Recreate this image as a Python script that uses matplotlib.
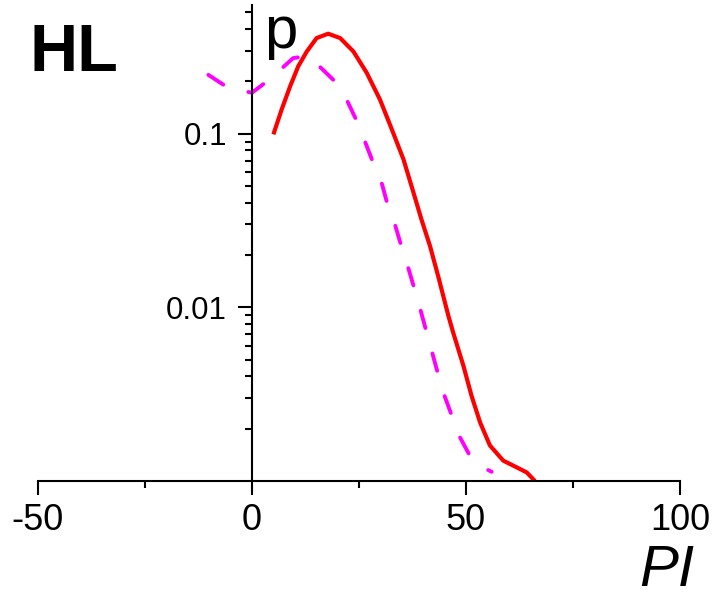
import numpy as np
import matplotlib.pyplot as plt
from matplotlib.ticker import LogLocator, NullFormatter, FixedLocator

plt.rcParams['font.family'] = ['Liberation Sans', 'DejaVu Sans']

# solid red curve
pi_red = [5.0, 6.9, 8.9, 10.8, 12.8, 15.1, 17.8, 20.6, 23.7, 26.8, 29.9, 32.4,
          35.4, 37.7, 39.6, 41.6, 43.5, 45.9, 47.0, 49.4, 51.3, 53.3, 55.6, 58.7,
          61.8, 64.2, 66.1]
p_red = [0.099, 0.137, 0.187, 0.244, 0.297, 0.355, 0.376, 0.355, 0.297, 0.224, 0.157, 0.11,
         0.071, 0.046, 0.032, 0.0225, 0.0151, 0.0089, 0.00716, 0.0046, 0.00309, 0.00217,
         0.0016, 0.00131, 0.0012, 0.00112, 0.001]

# dashed magenta curve
pi_mag = [-10.2, -5.5, 0.0, 4.2, 9.6, 12.0, 13.9, 19.0, 22.1, 24.5, 26.4, 28.3, 30.3,
          31.8, 33.4, 35.0, 36.5, 38.1, 39.3, 40.8, 42.0, 43.5, 44.7, 46.7, 48.2,
          51.3, 53.3, 56.0]
p_mag = [0.218, 0.183, 0.172, 0.206, 0.272, 0.278, 0.27, 0.204, 0.157, 0.118, 0.09, 0.068,
         0.052, 0.038, 0.030, 0.022, 0.0169, 0.0124, 0.0098, 0.00716, 0.0056, 0.0041,
         0.00323, 0.00237, 0.00186, 0.00134, 0.00122, 0.00113]

xticks = [-50, 0, 50, 100]
yticks = [0.01, 0.1]
ytick_labels = ['0.01', '0.1']

fig = plt.figure(figsize=(7.14, 5.92), dpi=100)
ax = fig.add_axes([0.0532, 0.1875, 0.8992, 0.804])

ax.plot(pi_red, p_red, color='red', lw=3.0, solid_capstyle='butt',
        solid_joinstyle='round')
ax.plot(pi_mag, p_mag, color='magenta', lw=2.8, dashes=(4.6, 6.8),
        dash_capstyle='round', dash_joinstyle='round')

ax.set_yscale('log')
ax.set_xlim(-50, 100)
ax.set_ylim(1e-3, 0.55)

ax.spines['left'].set_position(('data', 0))
ax.spines['top'].set_visible(False)
ax.spines['right'].set_visible(False)
for s in ['left', 'bottom']:
    ax.spines[s].set_linewidth(1.5)

ax.set_xticks(xticks)
ax.set_xticklabels([str(t) for t in xticks])
ax.xaxis.set_minor_locator(FixedLocator([-25, 25, 75]))
ax.set_yticks(yticks)
ax.set_yticklabels(ytick_labels)
ax.yaxis.set_minor_locator(LogLocator(base=10, subs=np.arange(2, 10)))
ax.yaxis.set_minor_formatter(NullFormatter())

ax.tick_params(axis='x', which='major', direction='out', length=10, width=1.5,
               labelsize=26, pad=6)
ax.tick_params(axis='x', which='minor', direction='out', length=5, width=1.5)
ax.tick_params(axis='y', which='major', direction='out', length=10, width=1.5,
               labelsize=22.5, pad=8)
ax.tick_params(axis='y', which='minor', direction='out', length=5, width=1.5)

fig.text(30 / 714, 1 - 71 / 592, 'HL', fontsize=48, fontweight='bold',
         ha='left', va='baseline')
fig.text(264 / 714, 1 - 48 / 592, 'p', fontsize=43, ha='left', va='baseline')
fig.text(694 / 714, 1 - 586 / 592, 'PI', fontsize=42, style='italic',
         ha='right', va='baseline')

fig.savefig('out.png', dpi=100)
